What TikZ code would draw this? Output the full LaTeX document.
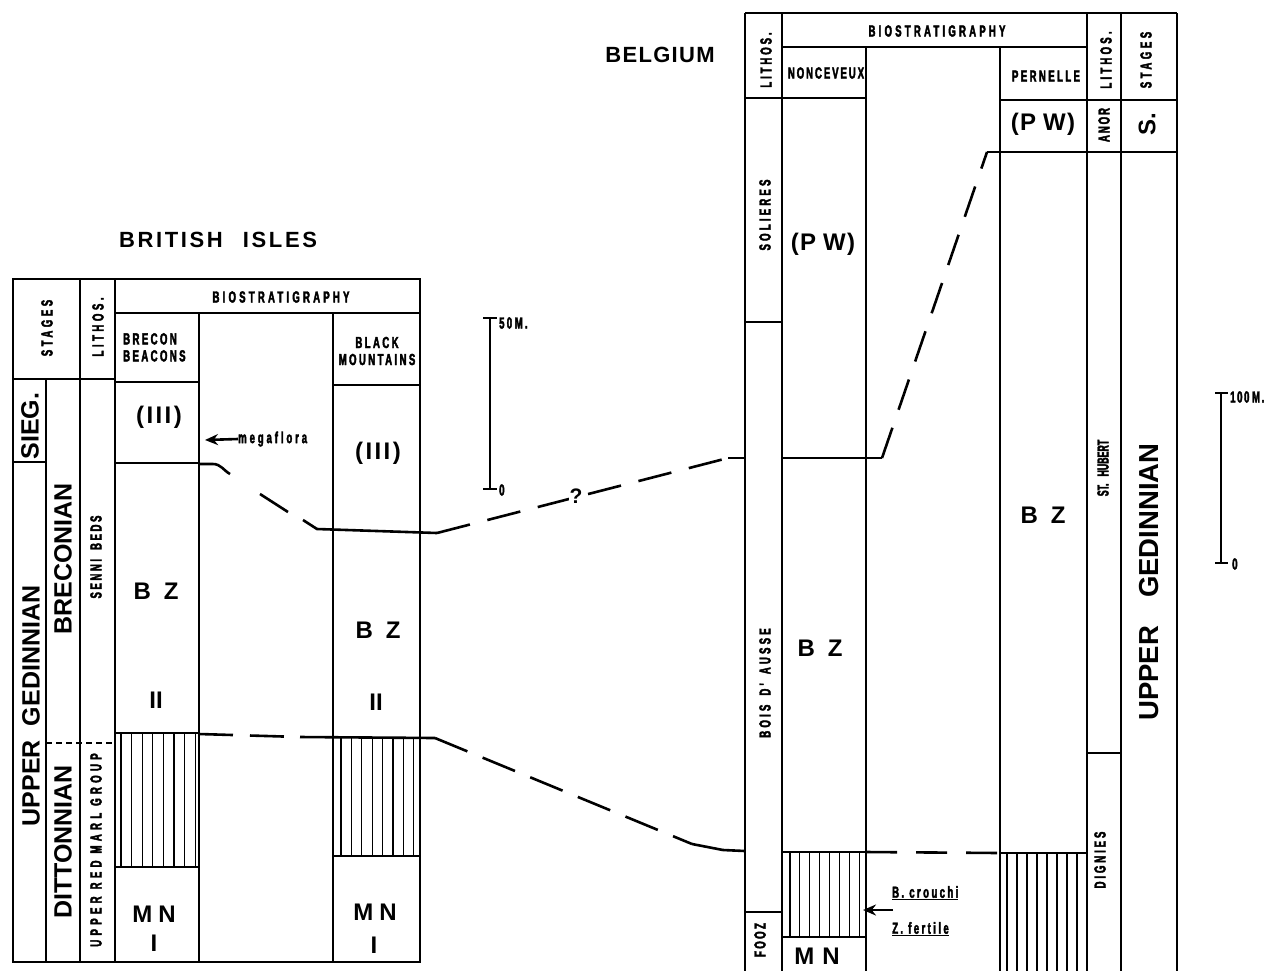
\documentclass[tikz,border=0pt]{standalone}
\usepackage{fontspec}
\setmainfont{Liberation Sans}
\newfontfamily\cond{Liberation Sans}[FakeStretch=0.6,LetterSpace=15,BoldFeatures={FakeBold=2.5}]
\newfontfamily\condn{Liberation Sans}[FakeStretch=0.55,BoldFeatures={FakeBold=2.5}]
\usetikzlibrary{arrows.meta}
\newcommand{\ls}[1]{\addfontfeature{LetterSpace=#1}}
\begin{document}
\begin{tikzpicture}[x=1pt,y=-1pt,
  tl/.style={line width=1.5pt},
  hl/.style={line width=1.1pt},
  corr/.style={line width=2.6pt},
  lab/.style={font=\cond\bfseries\fontsize{16}{17}\selectfont, inner sep=0pt},
  vlab/.style={lab, rotate=90},
  big/.style={font=\bfseries\fontsize{24}{24}\selectfont, inner sep=0pt},
  stg/.style={font=\bfseries\fontsize{25}{25}\selectfont, inner sep=0pt, rotate=90},
  ttl/.style={font=\bfseries\fontsize{22}{22}\selectfont, inner sep=0pt},
  arr/.style={line width=2.6pt,-{Stealth[length=13pt,width=11pt]}}]
\useasboundingbox (0,0) rectangle (1273,970);
\clip (0,0) rectangle (1273,970);

% ================= LEFT TABLE (British Isles) =================
\draw[tl] (13,279) rectangle (420,962);
\draw[tl] (13,379) -- (115,379);
\draw[tl] (46,379) -- (46,962);
\draw[tl] (80,279) -- (80,962);
\draw[tl] (115,279) -- (115,962);
\draw[tl] (115,313) -- (420,313);
\draw[tl] (199,313) -- (199,962);
\draw[tl] (333,313) -- (333,962);
\draw[tl] (115,382) -- (199,382);
\draw[tl] (333,385) -- (420,385);
\draw[tl] (13,462) -- (46,462);
\draw[tl] (115,463) -- (199,463);
\draw[tl, dash pattern=on 6pt off 4pt] (46,743) -- (115,743);
% hatched intervals
\draw[tl] (115,733) -- (199,733);
\draw[tl] (115,867) -- (199,867);
\foreach \k in {0,...,7} \draw[hl] ({121+10.6*\k},733) -- ({121+10.6*\k},867);
\draw[tl] (333,856) -- (420,856);
\foreach \k in {0,...,7} \draw[hl] ({341+10.4*\k},737) -- ({341+10.4*\k},856);

% texts left
\node[ttl] (titleBI) at (218,240) {\ls{12}BRITISH\hspace{20pt}ISLES};
\node[vlab] (lstages) at (47,328) {\ls{22}STAGES};
\node[vlab] (llithos) at (98,327) {\ls{22}LITHOS.};
\node[lab] (lbio) at (281,297) {\ls{20}BIOSTRATIGRAPHY};
\node[lab, align=left, anchor=north west] (brecon) at (123,333) {BRECON\\BEACONS};
\node[lab, align=center] (black) at (377,351) {BLACK\\MOUNTAINS};
\node[stg] (sieg) at (30,426) {SIEG.};
\node[stg] (lug) at (31,706) {UPPER\hspace{14pt}GEDINNIAN};
\node[stg] (brec) at (63,559) {BRECONIAN};
\node[stg] (ditt) at (63,842) {DITTONNIAN};
\node[vlab] (senni) at (96,557) {\ls{16}SENNI\hspace{9pt}BEDS};
\node[vlab] (urmg) at (96,850) {\ls{27}UPPER RED MARL GROUP};
\node[big] (bbIII) at (159,417) {\ls{10}(III)};
\node[big] (bmIII) at (378,453) {\ls{10}(III)};
\node[big] (bbBZ) at (156,591) {B\hspace{13pt}Z};
\node[big] (bmBZ) at (378,630) {B\hspace{13pt}Z};
\node[big] (bbII) at (156,700) {II};
\node[big] (bmII) at (376,702) {II};
\node[big] (bbMN) at (154,914) {M\hspace{6pt}N};
\node[big] (bbI) at (154,943) {I};
\node[big] (bmMN) at (375,912) {M\hspace{6pt}N};
\node[big] (bmI) at (374,945) {I};
\node[lab, anchor=west] (mega) at (238,439) {\ls{18}megaflora};
\coordinate (megaTip) at (205,440);
\draw[arr] (mega.west) -- (megaTip);

% left scale
\coordinate (s1t) at (490,318);
\coordinate (s1b) at (490,489);
\draw[line width=1.1pt] (s1t) -- (s1b);
\draw[line width=1.3pt] (483,318) -- (497,318);
\draw[line width=1.3pt] (483,489) -- (497,489);
\node[lab, anchor=west] (s50) at (499,323) {\ls{14}50\,M.};
\node[lab, anchor=west] (s0a) at (499,490) {0};

% ================= RIGHT TABLE (Belgium) =================
\foreach \x in {745,782,1087,1121,1177} \draw[tl] (\x,13) -- (\x,975);
\foreach \x in {866,1000} \draw[tl] (\x,47) -- (\x,975);
\draw[tl] (745,13) -- (1177,13);
\draw[tl] (782,47) -- (1087,47);
\draw[tl] (745,98) -- (866,98);
\draw[tl] (1000,100) -- (1177,100);
\draw[tl] (1000,152) -- (1177,152);
\draw[tl] (745,322) -- (782,322);
\draw[tl] (782,458) -- (866,458);
\draw[tl] (745,912) -- (782,912);
\draw[tl] (1087,753) -- (1121,753);
\draw[tl] (782,852) -- (866,852);
\draw[tl] (782,937) -- (866,937);
\draw[tl] (1000,853) -- (1087,853);
\foreach \k in {0,...,7} \draw[hl] ({790+9.9*\k},852) -- ({790+9.9*\k},937);
\foreach \k in {0,...,7} \draw[hl] ({1007+10*\k},853) -- ({1007+10*\k},975);

% texts right
\node[ttl] (titleBE) at (660,55) {\ls{6}BELGIUM};
\node[vlab] (rlith1) at (766,60) {\ls{18}LITHOS.};
\node[lab] (rbio) at (937,31) {\ls{20}BIOSTRATIGRAPHY};
\node[lab] (nonc) at (826,73) {\ls{12}NONCEVEUX};
\node[lab] (pern) at (1046,76) {PERNELLE};
\node[vlab] (rlith2) at (1106,60) {\ls{20}LITHOS.};
\node[vlab] (rstages) at (1146,60) {\ls{22}STAGES};
\node[big] (pPW) at (1043,124) {\ls{5}(P\hspace{7pt}W)};
\node[vlab] (anor) at (1104,125) {\ls{12}ANOR};
\node[big, rotate=90] (sS) at (1147,124) {S.};
\node[vlab] (sol) at (765,215) {\ls{20}SOLIERES};
\node[big] (nPW) at (823,244) {\ls{5}(P\hspace{7pt}W)};
\node[rotate=90, inner sep=0pt, font=\condn\bfseries\fontsize{16}{17}\selectfont] (sth) at (1103,468) {ST.\hspace{7pt}HUBERT};
\node[stg, font=\bfseries\fontsize{27.5}{27.5}\selectfont] (rug) at (1149,582) {UPPER\hspace{28pt}GEDINNIAN};
\node[big] (pBZ) at (1043,515) {B\hspace{13pt}Z};
\node[big] (nBZ) at (820,648) {B\hspace{13pt}Z};
\node[vlab] (bois) at (765,683) {\ls{20}BOIS\hspace{9pt}D'\hspace{9pt}AUSSE};
\node[vlab] (fooz) at (760,940) {FOOZ};
\node[big] (nMN) at (817,956) {M\hspace{8pt}N};
\node[vlab] (dign) at (1100,860) {\ls{18}DIGNIES};
\node[lab, anchor=west] (bcr) at (892,893) {\ls{15}\underline{B. crouchi}};
\node[lab, anchor=west] (zfe) at (892,929) {\ls{15}\underline{Z. fertile}};
\coordinate (arrS) at (893,910);
\coordinate (arrT) at (863,910);
\draw[arr] (arrS) -- (arrT);

% right scale
\coordinate (s2t) at (1221,393);
\coordinate (s2b) at (1221,563);
\draw[line width=1.1pt] (s2t) -- (s2b);
\draw[line width=1.3pt] (1215,393) -- (1228,393);
\draw[line width=1.3pt] (1215,563) -- (1228,563);
\node[lab, anchor=west] (s100) at (1230,397) {\ls{10}100\,M.};
\node[lab, anchor=west] (s0b) at (1232,564) {0};

% ================= CORRELATION LINES =================
% upper (top of BZ)
\coordinate (u0) at (199,464);
\coordinate (u1) at (213,464);
\coordinate (u2) at (230,474);
\coordinate (u3) at (260,494);
\coordinate (u4) at (288,512);
\coordinate (u5) at (303,520);
\coordinate (u6) at (317,529);
\coordinate (u7) at (437,533);
\coordinate (u8) at (728,458);
\coordinate (u9) at (745,458);
\draw[corr] (u0) -- (u1) to[out=0,in=150] (u2);
\draw[corr] (u3) -- (u4);
\draw[corr] (u5) -- (u6) -- (u7);
\draw[corr, dash pattern=on 34pt off 18pt] (u7) -- (u8);
\draw[corr] (u8) -- (u9);
\node[font=\bfseries\fontsize{21}{21}\selectfont, inner sep=1pt, fill=white] (q) at (576,496) {?};
% upper right
\coordinate (v0) at (866,458);
\coordinate (v1) at (882,458);
\coordinate (v2) at (987,152);
\coordinate (v3) at (1000,152);
\draw[corr] (v0) -- (v1);
\draw[corr, dash pattern=on 32pt off 19pt] (v1) -- (v2);
\draw[corr] (v2) -- (v3);
% lower (top of hatched interval)
\coordinate (w0) at (199,734);
\coordinate (w1) at (300,737);
\coordinate (w2) at (435,738);
\coordinate (w3) at (692,844);
\coordinate (w4) at (723,850);
\coordinate (w5) at (745,851);
\draw[corr, dash pattern=on 34pt off 17pt] (w0) -- (w1);
\draw[corr] (w1) -- (w2);
\draw[corr, dash pattern=on 35pt off 16.5pt] (w2) -- (w3);
\draw[corr] (w3) -- (w4) -- (w5);
% lower right
\coordinate (x0) at (866,852);
\coordinate (x1) at (1000,853);
\draw[corr, dash pattern=on 31pt off 19pt] (x0) -- (x1);
\end{tikzpicture}
\end{document}
